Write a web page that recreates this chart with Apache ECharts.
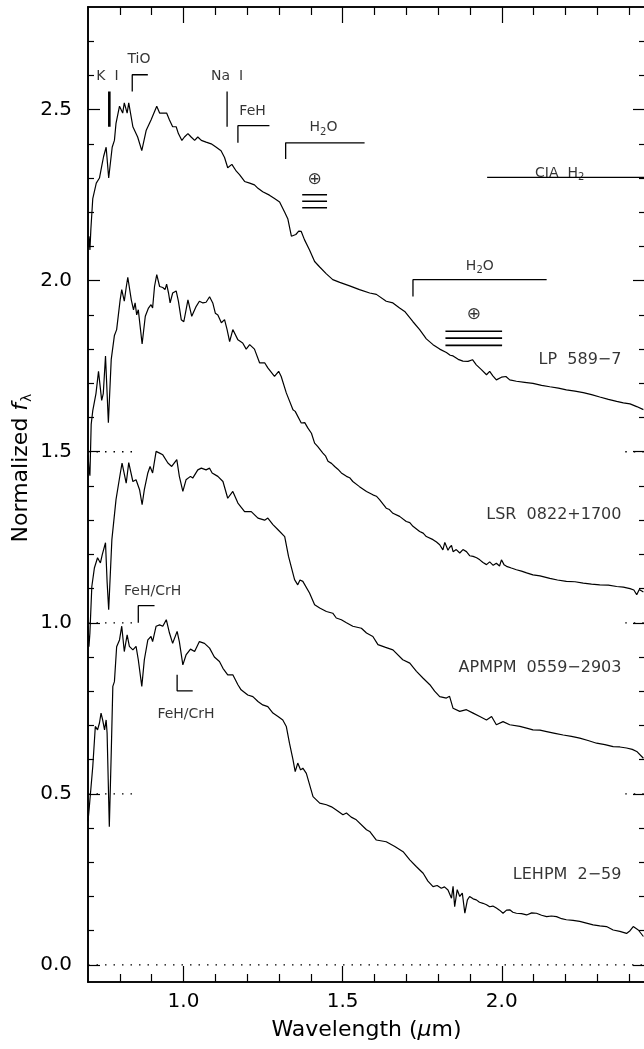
<!DOCTYPE html>
<html>
<head>
<meta charset="utf-8">
<script src="https://cdn.jsdelivr.net/npm/echarts@6/dist/echarts.min.js"></script>
<style>
  html, body { margin: 0; padding: 0; background: #fff; }
  #chart { width: 644px; height: 1049px; }
</style>
</head>
<body>
<div id="chart"></div>
<script>
// axis ranges and ticks
const X_MIN = 0.7, X_MAX = 2.45;
const Y_MIN = -0.05, Y_MAX = 2.8;
const xMajorTicks = [1.0, 1.5, 2.0];
const xMinorTicks = [0.8, 0.9, 1.1, 1.2, 1.3, 1.4, 1.6, 1.7, 1.8, 1.9, 2.1, 2.2, 2.3, 2.4];
const yMajorTicks = [0.0, 0.5, 1.0, 1.5, 2.0, 2.5];
const yMinorTicks = [0.1, 0.2, 0.3, 0.4, 0.6, 0.7, 0.8, 0.9, 1.1, 1.2, 1.3, 1.4, 1.6, 1.7, 1.8, 1.9, 2.1, 2.2, 2.3, 2.4, 2.6, 2.7];

// spectra (wavelength in micron, normalized flux + offset)
const lp589 = [[0.700,2.10],[0.703,2.13],[0.706,2.09],[0.709,2.15],[0.715,2.24],[0.726,2.285],[0.736,2.30],[0.743,2.334],[0.749,2.363],[0.757,2.39],[0.765,2.30],[0.776,2.39],[0.783,2.41],[0.788,2.46],[0.799,2.51],[0.809,2.49],[0.814,2.52],[0.823,2.49],[0.828,2.52],[0.841,2.45],[0.856,2.42],[0.869,2.38],[0.883,2.44],[0.898,2.47],[0.916,2.51],[0.925,2.49],[0.935,2.49],[0.947,2.49],[0.956,2.47],[0.966,2.45],[0.977,2.45],[0.984,2.43],[0.995,2.41],[1.003,2.42],[1.014,2.43],[1.024,2.42],[1.035,2.41],[1.045,2.42],[1.056,2.41],[1.071,2.405],[1.087,2.40],[1.103,2.39],[1.118,2.38],[1.129,2.36],[1.139,2.33],[1.152,2.34],[1.166,2.32],[1.176,2.31],[1.192,2.29],[1.208,2.285],[1.223,2.28],[1.234,2.27],[1.249,2.26],[1.270,2.25],[1.286,2.24],[1.302,2.23],[1.318,2.20],[1.328,2.18],[1.339,2.13],[1.345,2.125],[1.353,2.135],[1.362,2.145],[1.370,2.144],[1.380,2.12],[1.396,2.09],[1.412,2.056],[1.428,2.04],[1.449,2.02],[1.469,2.003],[1.491,1.995],[1.522,1.985],[1.553,1.974],[1.585,1.964],[1.606,1.96],[1.637,1.94],[1.658,1.935],[1.679,1.92],[1.695,1.91],[1.721,1.88],[1.742,1.857],[1.763,1.83],[1.784,1.813],[1.805,1.80],[1.826,1.79],[1.838,1.782],[1.847,1.78],[1.863,1.77],[1.878,1.765],[1.894,1.764],[1.908,1.769],[1.920,1.754],[1.936,1.74],[1.952,1.725],[1.962,1.735],[1.972,1.722],[1.983,1.71],[1.999,1.718],[2.013,1.72],[2.025,1.71],[2.046,1.706],[2.072,1.703],[2.098,1.70],[2.125,1.694],[2.151,1.69],[2.178,1.686],[2.203,1.681],[2.230,1.677],[2.256,1.673],[2.282,1.667],[2.308,1.66],[2.335,1.653],[2.361,1.647],[2.382,1.643],[2.403,1.64],[2.424,1.632],[2.445,1.623]];

const lsr0822 = [[0.700,1.49],[0.703,1.45],[0.706,1.43],[0.710,1.58],[0.715,1.62],[0.725,1.67],[0.733,1.735],[0.743,1.65],[0.748,1.67],[0.755,1.78],[0.764,1.585],[0.773,1.77],[0.783,1.84],[0.790,1.857],[0.801,1.944],[0.806,1.974],[0.814,1.94],[0.820,1.98],[0.825,2.01],[0.836,1.944],[0.843,1.915],[0.848,1.935],[0.853,1.90],[0.858,1.915],[0.865,1.857],[0.870,1.815],[0.880,1.896],[0.890,1.92],[0.898,1.93],[0.903,1.92],[0.909,1.983],[0.916,2.018],[0.925,1.983],[0.935,1.98],[0.942,1.974],[0.947,1.99],[0.953,1.964],[0.958,1.935],[0.966,1.964],[0.977,1.97],[0.984,1.94],[0.993,1.886],[1.001,1.88],[1.014,1.944],[1.026,1.896],[1.040,1.925],[1.050,1.94],[1.061,1.935],[1.071,1.937],[1.082,1.953],[1.092,1.935],[1.100,1.905],[1.108,1.90],[1.119,1.877],[1.129,1.886],[1.137,1.857],[1.145,1.822],[1.155,1.857],[1.171,1.827],[1.186,1.818],[1.197,1.80],[1.208,1.813],[1.223,1.80],[1.239,1.76],[1.255,1.76],[1.265,1.745],[1.286,1.72],[1.299,1.735],[1.307,1.72],[1.323,1.672],[1.344,1.623],[1.351,1.618],[1.370,1.584],[1.381,1.585],[1.391,1.569],[1.402,1.554],[1.412,1.525],[1.422,1.515],[1.438,1.496],[1.446,1.488],[1.454,1.472],[1.465,1.466],[1.475,1.457],[1.485,1.449],[1.496,1.438],[1.512,1.428],[1.522,1.424],[1.532,1.413],[1.553,1.398],[1.575,1.384],[1.595,1.374],[1.606,1.37],[1.616,1.36],[1.637,1.335],[1.647,1.331],[1.658,1.32],[1.679,1.311],[1.700,1.296],[1.711,1.293],[1.721,1.282],[1.742,1.267],[1.753,1.262],[1.763,1.252],[1.784,1.243],[1.795,1.236],[1.805,1.228],[1.815,1.213],[1.821,1.235],[1.826,1.238],[1.831,1.212],[1.836,1.22],[1.842,1.226],[1.847,1.208],[1.857,1.214],[1.868,1.204],[1.878,1.214],[1.889,1.208],[1.899,1.196],[1.910,1.194],[1.921,1.19],[1.931,1.184],[1.941,1.176],[1.952,1.17],[1.962,1.178],[1.973,1.168],[1.983,1.174],[1.993,1.166],[1.999,1.184],[2.007,1.17],[2.015,1.165],[2.030,1.16],[2.046,1.155],[2.062,1.151],[2.078,1.146],[2.098,1.14],[2.120,1.137],[2.151,1.13],[2.175,1.125],[2.203,1.121],[2.230,1.12],[2.256,1.116],[2.282,1.113],[2.308,1.111],[2.335,1.11],[2.361,1.106],[2.382,1.104],[2.403,1.10],[2.415,1.096],[2.424,1.082],[2.432,1.097],[2.445,1.09]];

const apm0559 = [[0.700,0.99],[0.703,0.93],[0.706,0.97],[0.712,1.106],[0.720,1.16],[0.730,1.19],[0.739,1.175],[0.745,1.20],[0.755,1.234],[0.760,1.12],[0.765,1.038],[0.775,1.243],[0.788,1.36],[0.802,1.44],[0.807,1.467],[0.820,1.408],[0.828,1.468],[0.841,1.413],[0.851,1.418],[0.862,1.389],[0.870,1.345],[0.877,1.389],[0.888,1.438],[0.895,1.457],[0.903,1.438],[0.914,1.501],[0.925,1.496],[0.935,1.491],[0.951,1.467],[0.963,1.457],[0.979,1.477],[0.987,1.428],[0.998,1.384],[1.008,1.418],[1.022,1.428],[1.029,1.423],[1.045,1.447],[1.056,1.452],[1.071,1.447],[1.082,1.452],[1.090,1.438],[1.108,1.428],[1.124,1.413],[1.139,1.364],[1.155,1.384],[1.171,1.35],[1.192,1.325],[1.213,1.325],[1.234,1.306],[1.255,1.30],[1.265,1.306],[1.281,1.287],[1.297,1.272],[1.318,1.252],[1.330,1.194],[1.349,1.126],[1.359,1.111],[1.366,1.125],[1.375,1.121],[1.396,1.087],[1.412,1.053],[1.428,1.043],[1.449,1.033],[1.469,1.028],[1.480,1.014],[1.496,1.009],[1.512,1.0],[1.532,0.99],[1.559,0.984],[1.575,0.97],[1.595,0.96],[1.611,0.936],[1.635,0.928],[1.658,0.921],[1.689,0.892],[1.711,0.882],[1.732,0.858],[1.753,0.838],[1.774,0.819],[1.789,0.80],[1.805,0.784],[1.826,0.78],[1.836,0.785],[1.847,0.75],[1.868,0.741],[1.889,0.746],[1.910,0.736],[1.931,0.726],[1.952,0.716],[1.968,0.726],[1.983,0.702],[2.004,0.711],[2.025,0.702],[2.057,0.697],[2.078,0.692],[2.098,0.687],[2.120,0.686],[2.141,0.682],[2.167,0.677],[2.193,0.672],[2.219,0.668],[2.245,0.663],[2.271,0.656],[2.298,0.648],[2.324,0.644],[2.350,0.638],[2.371,0.637],[2.392,0.634],[2.410,0.63],[2.424,0.624],[2.445,0.604]];

const lehpm259 = [[0.700,0.42],[0.704,0.46],[0.715,0.58],[0.723,0.697],[0.730,0.687],[0.736,0.707],[0.741,0.736],[0.746,0.716],[0.752,0.687],[0.757,0.716],[0.760,0.678],[0.767,0.404],[0.773,0.619],[0.778,0.814],[0.783,0.828],[0.790,0.93],[0.799,0.95],[0.806,0.99],[0.814,0.916],[0.823,0.965],[0.830,0.931],[0.841,0.921],[0.851,0.931],[0.858,0.892],[0.869,0.814],[0.877,0.892],[0.888,0.95],[0.898,0.96],[0.903,0.945],[0.914,0.99],[0.925,0.994],[0.935,0.99],[0.946,1.009],[0.956,0.97],[0.966,0.94],[0.980,0.975],[0.987,0.945],[0.998,0.877],[1.008,0.906],[1.022,0.923],[1.035,0.916],[1.050,0.945],[1.066,0.94],[1.082,0.926],[1.097,0.90],[1.113,0.887],[1.124,0.867],[1.139,0.848],[1.155,0.848],[1.171,0.819],[1.181,0.804],[1.202,0.789],[1.218,0.784],[1.234,0.77],[1.249,0.76],[1.265,0.755],[1.281,0.736],[1.297,0.726],[1.312,0.716],[1.323,0.697],[1.333,0.648],[1.344,0.60],[1.351,0.565],[1.359,0.59],[1.368,0.57],[1.375,0.575],[1.386,0.56],[1.407,0.492],[1.428,0.473],[1.449,0.468],[1.465,0.462],[1.480,0.453],[1.501,0.439],[1.512,0.444],[1.527,0.432],[1.543,0.424],[1.575,0.395],[1.585,0.39],[1.606,0.365],[1.637,0.36],[1.664,0.346],[1.690,0.331],[1.711,0.307],[1.732,0.287],[1.753,0.268],[1.768,0.245],[1.784,0.229],[1.797,0.232],[1.810,0.224],[1.820,0.228],[1.831,0.219],[1.842,0.195],[1.847,0.23],[1.852,0.17],[1.860,0.22],[1.868,0.20],[1.876,0.21],[1.884,0.151],[1.892,0.19],[1.899,0.20],[1.910,0.193],[1.920,0.19],[1.930,0.183],[1.941,0.18],[1.952,0.176],[1.962,0.17],[1.972,0.172],[1.983,0.166],[1.993,0.16],[2.004,0.151],[2.015,0.16],[2.025,0.161],[2.035,0.154],[2.046,0.151],[2.062,0.15],[2.078,0.146],[2.094,0.152],[2.109,0.151],[2.125,0.145],[2.141,0.141],[2.156,0.143],[2.172,0.141],[2.188,0.135],[2.203,0.132],[2.224,0.13],[2.245,0.127],[2.266,0.122],[2.287,0.117],[2.308,0.114],[2.329,0.112],[2.350,0.102],[2.371,0.098],[2.392,0.092],[2.403,0.10],[2.413,0.112],[2.429,0.102],[2.445,0.083]];

// object names, right aligned at labelX
const objectNames = ['LP  589\u22127', 'LSR  0822+1700', 'APMPM  0559\u22122903', 'LEHPM  2\u221259'];
const objectLabelY = [1.769, 1.316, 0.867, 0.263];
const labelX = 2.376;

// zero levels of the offset spectra (dotted)
const offsetLevels = [0.5, 1.0, 1.5];
const leftStub = [0.7, 0.855];
const rightStub = [2.388, 2.45];

// feature annotations: text, x, y (text centre)
const featureText = [
  ['K  I', 0.761, 2.596],
  ['TiO', 0.860, 2.646],
  ['Na  I', 1.137, 2.596],
  ['FeH', 1.217, 2.494],
  ['{t|H}{s|2}{t|O}', 1.440, 2.447],
  ['{o|\u2295}', 1.412, 2.295],
  ['{t|CIA  H}{s|2}', 2.182, 2.315],
  ['{t|H}{s|2}{t|O}', 1.931, 2.042],
  ['{o|\u2295}', 1.912, 1.900],
  ['FeH/CrH', 0.903, 1.092],
  ['FeH/CrH', 1.008, 0.731]
];
// bracket / marker polylines
const bracketPaths = [
  [[1.137, 2.45], [1.137, 2.553]],
  [[0.839, 2.553], [0.839, 2.602], [0.888, 2.602]],
  [[1.171, 2.403], [1.171, 2.453], [1.270, 2.453]],
  [[1.321, 2.356], [1.321, 2.403], [1.569, 2.403]],
  [[1.721, 1.954], [1.721, 2.003], [2.141, 2.003]],
  [[1.954, 2.302], [2.45, 2.302]],
  [[0.858, 1.0], [0.858, 1.05], [0.909, 1.05]],
  [[0.980, 0.848], [0.980, 0.801], [1.029, 0.801]]
];
const kLineMark = [[0.767, 2.45], [0.767, 2.553]];
// telluric bars: [x0, x1, [levels]]
const telluricBars = [
  [1.373, 1.451, [2.251, 2.232, 2.213]],
  [1.823, 2.001, [1.852, 1.832, 1.811]]
];

const FONT = 'DejaVu Sans';
const BLACK = '#000';

function xAxisDef(pos, ticks, len, withLabels) {
  return {
    type: 'value', position: pos, min: X_MIN, max: X_MAX,
    axisLine: { show: true, onZero: false, lineStyle: { color: BLACK, width: 1.6 } },
    axisTick: { show: true, inside: true, length: len, customValues: ticks, lineStyle: { color: BLACK, width: 1.2 } },
    axisLabel: withLabels ? {
      show: true, customValues: ticks, margin: 10, color: BLACK,
      fontFamily: FONT, fontSize: 20, formatter: v => v.toFixed(1)
    } : { show: false },
    splitLine: { show: false }
  };
}
function yAxisDef(pos, ticks, len, withLabels) {
  return {
    type: 'value', position: pos, min: Y_MIN, max: Y_MAX,
    axisLine: { show: true, onZero: false, lineStyle: { color: BLACK, width: 1.6 } },
    axisTick: { show: true, inside: true, length: len, customValues: ticks, lineStyle: { color: BLACK, width: 1.2 } },
    axisLabel: withLabels ? {
      show: true, customValues: ticks, margin: 16, color: BLACK,
      fontFamily: FONT, fontSize: 20, formatter: v => v.toFixed(1)
    } : { show: false },
    splitLine: { show: false }
  };
}

const xAxes = [
  xAxisDef('bottom', xMajorTicks, 16, true),
  xAxisDef('bottom', xMinorTicks, 8, false),
  xAxisDef('top', xMajorTicks, 16, false),
  xAxisDef('top', xMinorTicks, 8, false)
];
xAxes[0].name = 'Wavelength ({m|\u03bc}m)';
xAxes[0].nameLocation = 'middle';
xAxes[0].nameGap = 37;
xAxes[0].nameTextStyle = {
  color: BLACK, fontFamily: FONT, fontSize: 22,
  rich: { m: { fontFamily: FONT, fontSize: 22, fontStyle: 'italic', color: BLACK } }
};
const yAxes = [
  yAxisDef('left', yMajorTicks, 12, true),
  yAxisDef('left', yMinorTicks, 6, false),
  yAxisDef('right', yMajorTicks, 12, false),
  yAxisDef('right', yMinorTicks, 6, false)
];

const lineBase = { type: 'line', showSymbol: false, symbol: 'none', silent: true, animation: false };

const series = [];
[lp589, lsr0822, apm0559, lehpm259].forEach(d => {
  series.push(Object.assign({}, lineBase, { data: d, z: 5, lineStyle: { color: BLACK, width: 1.2 } }));
});
const dotted = { color: BLACK, width: 1.3, type: [1.5, 7] };
series.push(Object.assign({}, lineBase, { data: [[X_MIN, 0], [X_MAX, 0]], lineStyle: dotted }));
offsetLevels.forEach(lv => {
  series.push(Object.assign({}, lineBase, { data: [[leftStub[0], lv], [leftStub[1], lv]], lineStyle: dotted }));
  series.push(Object.assign({}, lineBase, { data: [[rightStub[0], lv], [rightStub[1], lv]], lineStyle: dotted }));
});
bracketPaths.forEach(p => {
  series.push(Object.assign({}, lineBase, { data: p, lineStyle: { color: BLACK, width: 1.3 } }));
});
series.push(Object.assign({}, lineBase, { data: kLineMark, lineStyle: { color: BLACK, width: 2.6 } }));
telluricBars.forEach(b => {
  b[2].forEach(lv => {
    series.push(Object.assign({}, lineBase, { data: [[b[0], lv], [b[1], lv]], lineStyle: { color: BLACK, width: 1.6 } }));
  });
});

const richText = {
  t: { fontFamily: FONT, fontSize: 14, color: BLACK },
  s: { fontFamily: FONT, fontSize: 10, color: BLACK, padding: [9, 0, 0, 0] },
  o: { fontFamily: FONT, fontSize: 17, color: BLACK }
};
series.push({
  type: 'scatter', symbolSize: 0, silent: true, animation: false,
  data: featureText.map(f => ({ value: [f[1], f[2]], name: f[0] })),
  label: {
    show: true, position: 'inside', formatter: '{b}',
    color: BLACK, fontFamily: FONT, fontSize: 14, rich: richText
  }
});
series.push({
  type: 'scatter', symbolSize: 0, silent: true, animation: false,
  data: objectNames.map((n, i) => ({ value: [labelX, objectLabelY[i]], name: n })),
  label: {
    show: true, position: 'left', distance: 0, formatter: '{b}',
    color: BLACK, fontFamily: FONT, fontSize: 16
  }
});

const chart = echarts.init(document.getElementById('chart'), null, { renderer: 'canvas' });
chart.setOption({
  backgroundColor: '#fff',
  animation: false,
  grid: { left: 88, right: -1, top: 7, bottom: 67, containLabel: false, outerBoundsMode: 'none' },
  xAxis: xAxes,
  yAxis: yAxes,
  series: series,
  graphic: [{
    type: 'text', x: 21, y: 468, rotation: Math.PI / 2,
    style: {
      text: 'Normalized {f|f}{l|\u03bb}',
      fill: BLACK, font: '22px "DejaVu Sans"', align: 'center', verticalAlign: 'middle',
      rich: {
        f: { fontFamily: FONT, fontSize: 22, fontStyle: 'italic', fill: BLACK },
        l: { fontFamily: FONT, fontSize: 14, fill: BLACK, padding: [12, 0, 0, 1] }
      }
    }
  }]
});
</script>
</body>
</html>
